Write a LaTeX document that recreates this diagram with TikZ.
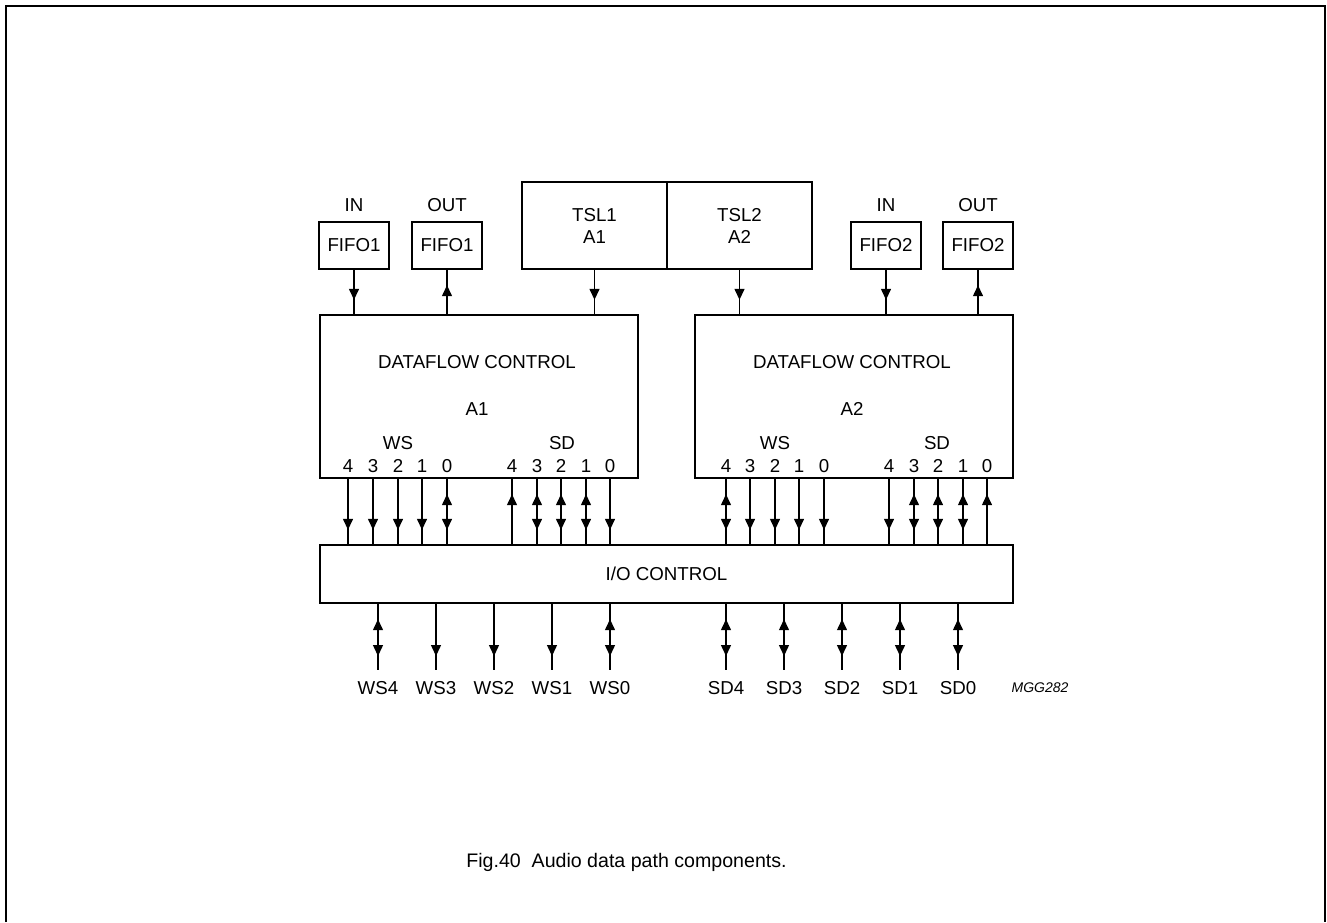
\documentclass[tikz,border=0pt]{standalone}
\usepackage{fontspec}
\setmainfont{Liberation Sans}
\usepackage{tikz}
\usetikzlibrary{arrows.meta,positioning,decorations.markings}

\begin{document}
\begin{tikzpicture}[x=1pt, y=-1pt,
  every node/.style={font=\fontsize{18.7}{22}\selectfont},
  blk/.style={draw, line width=2.4pt, inner sep=0pt, align=center},
  fifo/.style={blk, minimum width=70pt, minimum height=47pt},
  tsl/.style={blk, minimum width=145pt, minimum height=87pt},
  dflow/.style={blk, minimum width=318pt, minimum height=163pt},
  num/.style={inner sep=0pt},
  pin/.style={inner xsep=2pt, inner ysep=11pt, anchor=north},
  sig/.style={line width=1.4pt, postaction={decorate}},
  sigdn/.style={sig, decoration={markings,
      mark=at position -14pt with {\arrow{Triangle[length=11pt,width=10pt]}}}},
  sigup/.style={sig, decoration={markings,
      mark=at position 15pt with {\arrowreversed{Triangle[length=11pt,width=10pt]}}}},
  sigbi/.style={sig, decoration={markings,
      mark=at position 15pt with {\arrowreversed{Triangle[length=11pt,width=10pt]}},
      mark=at position -14pt with {\arrow{Triangle[length=11pt,width=10pt]}}}}
]
  \useasboundingbox (0,0) rectangle (1327,922);
  % frame
  \draw[line width=2.2pt] (6,922) -- (6,6) -- (1325,6) -- (1325,922);

  % sources on top
  \node[fifo, label={[label distance=6pt]above:IN}] (fi1) at (354,245.5) {FIFO1};
  \node[fifo, label={[label distance=6pt]above:OUT}] (fo1) at (447,245.5) {FIFO1};
  \node[tsl] (tsl1) at (594.5,225.5) {TSL1\\A1};
  \node[tsl] (tsl2) at (739.5,225.5) {TSL2\\A2};
  \node[fifo, label={[label distance=6pt]above:IN}] (fi2) at (886,245.5) {FIFO2};
  \node[fifo, label={[label distance=6pt]above:OUT}] (fo2) at (978,245.5) {FIFO2};

  % dataflow blocks
  \node[dflow] (dfa) at (479,396.5) {};
  \node[dflow] (dfb) at (854,396.5) {};
  \node (dfat) at (477,362) {DATAFLOW CONTROL};
  \node (dfan) at (477,409) {A1};
  \node (dfbt) at (852,362) {DATAFLOW CONTROL};
  \node (dfbn) at (852,409) {A2};
  \node (dfaw) at (398,443) {WS};
  \node (dfas) at (562,443) {SD};
  \node (dfbw) at (775,443) {WS};
  \node (dfbs) at (937,443) {SD};

  % I/O block
  \node[blk, minimum width=693pt, minimum height=58pt] (io) at (666.5,574) {I/O CONTROL};

  % top connectors
  \draw[sigdn] (fi1.south) -- (fi1.south |- dfa.north);
  \draw[sigup] (fo1.south) -- (fo1.south |- dfa.north);
  \draw[sigdn] (tsl1.south) -- (tsl1.south |- dfa.north);
  \draw[sigdn] (tsl2.south) -- (tsl2.south |- dfb.north);
  \draw[sigdn] (fi2.south) -- (fi2.south |- dfb.north);
  \draw[sigup] (fo2.south) -- (fo2.south |- dfb.north);

  % channel numbers and internal connectors
  \foreach \x/\n/\s in {348/4/sigdn, 373/3/sigdn, 398/2/sigdn, 422/1/sigdn, 447/0/sigbi}{
    \node[num] (aw\n) at (\x,466) {\n};
    \draw[\s] (aw\n |- dfa.south) -- (aw\n |- io.north);
  }
  \foreach \x/\n/\s in {512/4/sigup, 537/3/sigbi, 561/2/sigbi, 586/1/sigbi, 610/0/sigdn}{
    \node[num] (as\n) at (\x,466) {\n};
    \draw[\s] (as\n |- dfa.south) -- (as\n |- io.north);
  }
  \foreach \x/\n/\s in {726/4/sigbi, 750/3/sigdn, 775/2/sigdn, 799/1/sigdn, 824/0/sigdn}{
    \node[num] (bw\n) at (\x,466) {\n};
    \draw[\s] (bw\n |- dfb.south) -- (bw\n |- io.north);
  }
  \foreach \x/\n/\s in {889/4/sigdn, 914/3/sigbi, 938/2/sigbi, 963/1/sigbi, 987/0/sigup}{
    \node[num] (bs\n) at (\x,466) {\n};
    \draw[\s] (bs\n |- dfb.south) -- (bs\n |- io.north);
  }

  % external pins
  \foreach \x/\n/\s in {378/4/sigbi, 436/3/sigdn, 494/2/sigdn, 552/1/sigdn, 610/0/sigbi}{
    \node[pin] (ws\n) at (\x,670) {WS\n};
    \draw[\s] (ws\n |- io.south) -- (ws\n.north);
  }
  \foreach \x/\n in {726/4, 784/3, 842/2, 900/1, 958/0}{
    \node[pin] (sd\n) at (\x,670) {SD\n};
    \draw[sigbi] (sd\n |- io.south) -- (sd\n.north);
  }
  \node[font=\fontsize{14}{16}\selectfont\itshape] (code) at (1040,688) {MGG282};

  % caption
  \node[font=\fontsize{19.6}{23}\selectfont] (cap) at (626.5,862) {Fig.40\ \ Audio data path components.};
\end{tikzpicture}
\end{document}
